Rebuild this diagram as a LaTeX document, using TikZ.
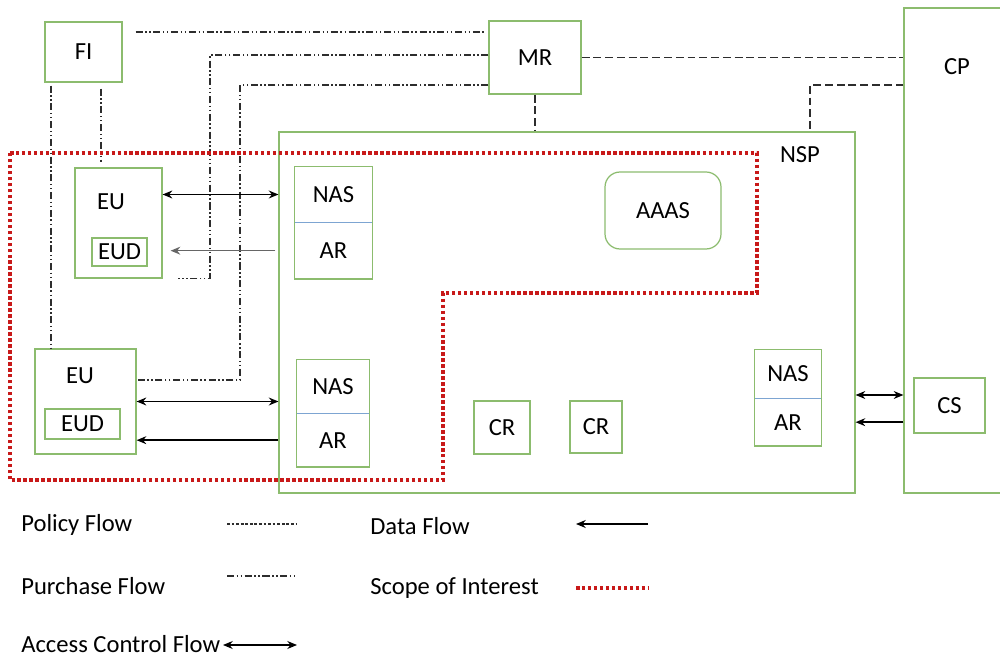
\documentclass[tikz,border=0pt]{standalone}
\usepackage{fontspec}
\setmainfont{Carlito}
\usepackage{tikz}
\usetikzlibrary{arrows.meta, positioning, fit}

\definecolor{boxgreen}{RGB}{140,188,110}
\definecolor{sepblue}{RGB}{125,165,210}
\definecolor{scopered}{RGB}{200,25,25}
\definecolor{flowgray}{RGB}{45,45,45}

\begin{document}
\begin{tikzpicture}[
    x=0.02cm, y=-0.02cm,
    node_box/.style={rectangle, draw=boxgreen, line width=0.7pt, inner sep=0pt, font=\fontsize{14}{16}\selectfont},
    node_half/.style={rectangle, draw=none, inner sep=0pt, font=\fontsize{14}{16}\selectfont},
    node_txt/.style={inner sep=0pt, font=\fontsize{14}{16}\selectfont},
    edge_acc/.style={<->, >={Stealth[length=5.5pt, width=4.5pt]}, line width=0.75pt},
    edge_data/.style={->, >={Stealth[length=5.5pt, width=4.5pt]}, line width=0.85pt},
    edge_policy/.style={flowgray, line width=0.7pt, dash pattern=on 4.5pt off 2.2pt},
    edge_purch/.style={flowgray, line width=0.7pt, dash pattern=on 4pt off 1.5pt on 0.8pt off 1.5pt on 0.8pt off 1.5pt},
    edge_scope/.style={scopered, line width=2.2pt, dash pattern=on 2pt off 1.4pt},
    sep_line/.style={sepblue, line width=0.6pt}
  ]
    \useasboundingbox (0,0) rectangle (1000,658);

    \node[node_box, minimum width=1.54cm, minimum height=1.2cm] (fi) at (83.5,52) {FI};
    \node[node_box, minimum width=1.84cm, minimum height=1.46cm] (mr) at (535,57.5) {MR};
    \node[node_box, minimum width=2.24cm, minimum height=9.7cm] (cp) at (960,250.5) {};
    \node[node_txt] (cp_lbl) at (957,67) {CP};
    \node[node_box, minimum width=11.52cm, minimum height=7.22cm] (nsp) at (567,312.5) {};
    \node[node_txt] (nsp_lbl) at (800,155) {NSP};

    % end users
    \node[node_box, minimum width=1.74cm, minimum height=2.2cm] (eu1) at (118.5,223) {};
    \node[node_txt] (eu1_lbl) at (111,202) {EU};
    \node[node_box, minimum width=1.1cm, minimum height=0.56cm] (eud1) at (119.5,252) {EUD};
    \node[node_box, minimum width=2.02cm, minimum height=2.1cm] (eu2) at (85.5,401.5) {};
    \node[node_txt] (eu2_lbl) at (80,376) {EU};
    \node[node_box, minimum width=1.5cm, minimum height=0.6cm] (eud2) at (82.5,424) {EUD};

    % NAS / AR pairs
    \node[node_half, minimum width=1.54cm, minimum height=1.1cm] (nas1) at (333.5,194.5) {NAS};
    \node[node_half, minimum width=1.54cm, minimum height=1.12cm, below=0cm of nas1] (ar1) {AR};
    \node[node_box, fit=(nas1)(ar1)] (nasar1) {};
    \draw[sep_line] (ar1.north west) -- (ar1.north east);

    \node[node_half, minimum width=1.44cm, minimum height=1.06cm] (nas2) at (333,386.5) {NAS};
    \node[node_half, minimum width=1.44cm, minimum height=1.06cm, below=0cm of nas2] (ar2) {AR};
    \node[node_box, fit=(nas2)(ar2)] (nasar2) {};
    \draw[sep_line] (ar2.north west) -- (ar2.north east);

    \node[node_half, minimum width=1.32cm, minimum height=0.96cm] (nas3) at (788,374) {NAS};
    \node[node_half, minimum width=1.32cm, minimum height=0.94cm, below=0cm of nas3] (ar3) {AR};
    \node[node_box, fit=(nas3)(ar3)] (nasar3) {};
    \draw[sep_line] (ar3.north west) -- (ar3.north east);

    \node[node_box, rounded corners=0.3cm, minimum width=2.32cm, minimum height=1.54cm] (aaas) at (663,210.5) {AAAS};
    \node[node_box, minimum width=1.12cm, minimum height=1.06cm] (cr1) at (502,427.5) {CR};
    \node[node_box, minimum width=1.04cm, minimum height=1.04cm] (cr2) at (596,427) {CR};
    \node[node_box, minimum width=1.42cm, minimum height=1.1cm] (cs) at (949.5,405.5) {CS};

    % bends
    \coordinate (b1) at (210,55);
    \coordinate (b2) at (240,85);
    \coordinate (b2d) at (240,380);
    \coordinate (b3) at (810,85);
    \coordinate (acc3) at (0,395);

    % purchase flow
    \draw[edge_purch, shorten <=0.26cm, shorten >=0.08cm] (fi.east |- 0,32) -- (mr.west |- 0,32);
    \draw[edge_purch, shorten >=0.3cm] (mr.west |- b1) -- (b1) -- (b1 |- eu1.south) -- (eu1.south east);
    \draw[edge_purch] (mr.west |- b2) -- (b2) -- (b2d) -- (eu2.east |- b2d);
    \draw[edge_purch, shorten <=0.12cm, shorten >=0.1cm] (fi.south -| 101,0) -- (eu1.north -| 101,0);
    \draw[edge_purch, shorten <=0.06cm] (fi.south -| 51,0) -- (eu2.north -| 51,0);

    % policy flow
    \draw[edge_policy] (mr.south) -- (nsp.north -| mr.south);
    \draw[edge_policy] (mr.east) -- (cp.west |- mr.east);
    \draw[edge_policy] (cp.west |- b3) -- (b3) -- (b3 |- nsp.north);

    % access control and data flow
    \draw[edge_acc] (eu1.east |- nas1) -- (nsp.west |- nas1);
    \draw[edge_data, gray!80!black, shorten <=0.06cm, shorten >=0.16cm] (nsp.west |- ar1) -- (eu1.east |- ar1);
    \draw[edge_acc] (eu2.east) -- (nsp.west |- eu2.east);
    \draw[edge_data] (nsp.west |- ar2) -- (eu2.east |- ar2);
    \draw[edge_acc] (nsp.east |- acc3) -- (cp.west |- acc3);
    \draw[edge_data] (cp.west |- ar3) -- (nsp.east |- ar3);

    % scope of interest
    \draw[edge_scope] (10,153) -- (757,153) -- (757,293) -- (443,293) -- (443,480) -- (10,480) -- cycle;

    % legend
    \node[node_txt, anchor=west] (lg_policy) at (21,525) {Policy Flow};
    \node[node_txt, anchor=west] (lg_purch) at (21,586) {Purchase Flow};
    \node[node_txt, anchor=west] (lg_access) at (21,644) {Access Control Flow};
    \node[node_txt, anchor=west] (lg_data) at (370,526) {Data Flow};
    \node[node_txt, anchor=west] (lg_scope) at (370,588) {Scope of Interest};

    \coordinate (lp1) at (227,524);  \coordinate (lp2) at (296,524);
    \coordinate (lu1) at (227,576);  \coordinate (lu2) at (296,576);
    \coordinate (la1) at (223,645);  \coordinate (la2) at (297,645);
    \coordinate (ld1) at (648,524);  \coordinate (ld2) at (576,524);
    \coordinate (ls1) at (576,588);  \coordinate (ls2) at (648,588);

    \draw[edge_policy, dash pattern=on 1.6pt off 1pt] (lp1) -- (lp2);
    \draw[edge_purch] (lu1) -- (lu2);
    \draw[edge_acc] (la1) -- (la2);
    \draw[edge_data] (ld1) -- (ld2);
    \draw[edge_scope] (ls1) -- (ls2);
\end{tikzpicture}
\end{document}
